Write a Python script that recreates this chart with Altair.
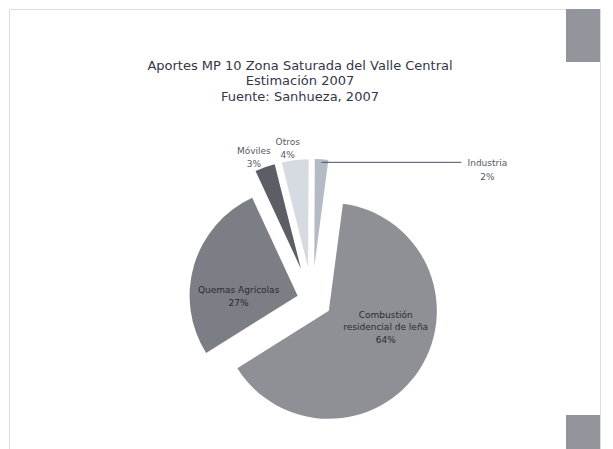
import altair as alt
import pandas as pd

# ---- data ----
categorias = ["Combustión residencial de leña", "Quemas Agrícolas", "Móviles", "Otros", "Industria"]
etiquetas = ["Combustión|residencial de leña", "Quemas Agrícolas", "Móviles", "Otros", "Industria"]
valores = [64, 27, 3, 4, 2]
colores = ["#8e9096", "#7c7e85", "#5c5e66", "#d6dbe1", "#b4bbc4"]
titulo = ["Aportes MP 10 Zona Saturada del Valle Central", "Estimación 2007", "Fuente: Sanhueza, 2007"]

df = pd.DataFrame({"cat": categorias, "etq": etiquetas, "valor": valores, "orden": list(range(len(valores)))})

W, H = 591, 445
CX, CY, R = 303, 291, 108
START = 0.131

base = alt.Chart(df).transform_joinaggregate(
    total="sum(valor)"
).transform_window(
    cum="sum(valor)", sort=[alt.SortField("orden")], frame=[None, 0]
).transform_calculate(
    a0=f"{START} + 2*PI*(datum.cum - datum.valor)/datum.total",
    a1=f"{START} + 2*PI*datum.cum/datum.total",
).transform_calculate(
    mid="(datum.a0 + datum.a1)/2",
    ex="datum.valor >= 50 ? 20 : (datum.valor >= 10 ? 15 : 33)",
).transform_calculate(
    sx=f"{CX} + datum.ex*sin(datum.mid)",
    sy=f"{CY} - datum.ex*cos(datum.mid)",
    lines="split(datum.etq + '|' + datum.valor + '%', '|')",
)

arcs = base.mark_arc(radius=R).encode(
    x=alt.X("sx:Q", scale=None, axis=None),
    y=alt.Y("sy:Q", scale=None, axis=None),
    theta=alt.Theta("a0:Q", scale=None, stack=False),
    theta2="a1:Q",
    color=alt.Color("cat:N", scale=alt.Scale(domain=categorias, range=colores), legend=None),
)

inner = base.transform_filter("datum.valor >= 10").transform_calculate(
    lx="datum.sx + 59*sin(datum.mid - 0.3)",
    ly="datum.sy - 59*cos(datum.mid - 0.3) - (length(datum.lines) - 1)*6",
).mark_text(font="DejaVu Sans", fontSize=9, color="#2a2b30", lineHeight=12.5, baseline="middle", align="center").encode(
    x=alt.X("lx:Q", scale=None), y=alt.Y("ly:Q", scale=None), text="lines:N"
)

outer = base.transform_filter("datum.valor < 10 && datum.valor > 2").transform_calculate(
    lx="datum.sx + 127*sin(datum.mid - 0.04)",
    ly="datum.sy - 127*cos(datum.mid - 0.04)",
).mark_text(font="DejaVu Sans", fontSize=9, color="#555a66", lineHeight=13, baseline="middle", align="center").encode(
    x=alt.X("lx:Q", scale=None), y=alt.Y("ly:Q", scale=None), text="lines:N"
)

lead = base.transform_filter("datum.valor <= 2").transform_calculate(
    x0=f"datum.sx + {R - 3}*sin(datum.mid)",
    y0=f"datum.sy - {R - 3}*cos(datum.mid)",
).transform_calculate(
    x1="datum.x0 + 140",
    tx="datum.x0 + 166",
    ty="datum.y0 + 1",
)

leader = lead.mark_rule(color="#4a4f66", strokeWidth=1).encode(
    x=alt.X("x0:Q", scale=None), x2="x1:Q", y=alt.Y("y0:Q", scale=None)
)
leader_text = lead.mark_text(font="DejaVu Sans", fontSize=9, color="#555a66", lineHeight=13.5, baseline="middle", align="center").encode(
    x=alt.X("tx:Q", scale=None), y=alt.Y("ty:Q", scale=None), text="lines:N"
)

tdf = pd.DataFrame({"t": titulo, "i": list(range(len(titulo)))})
title = alt.Chart(tdf).transform_calculate(
    ty="56.5 + 15.5*datum.i"
).mark_text(font="DejaVu Sans", fontSize=13, color="#34364a", baseline="middle", align="center").encode(
    x=alt.value(291), y=alt.Y("ty:Q", scale=None), text="t:N"
)

deco_top = alt.Chart(pd.DataFrame({"d": [0]})).mark_rect(color="#93959d").encode(
    x=alt.value(557), x2=alt.value(591), y=alt.value(0), y2=alt.value(53)
)
deco_bot = alt.Chart(pd.DataFrame({"d": [0]})).mark_rect(color="#93959d").encode(
    x=alt.value(557), x2=alt.value(591), y=alt.value(406), y2=alt.value(445)
)

chart = alt.layer(deco_top, deco_bot, arcs, inner, outer, leader, leader_text, title).properties(
    width=W, height=H, padding=1, autosize=alt.AutoSizeParams(type="none")
).configure_view(stroke="#767c90", strokeWidth=2).configure(background="white")

chart.save("out.html", embed_options={"renderer": "svg", "actions": False})
